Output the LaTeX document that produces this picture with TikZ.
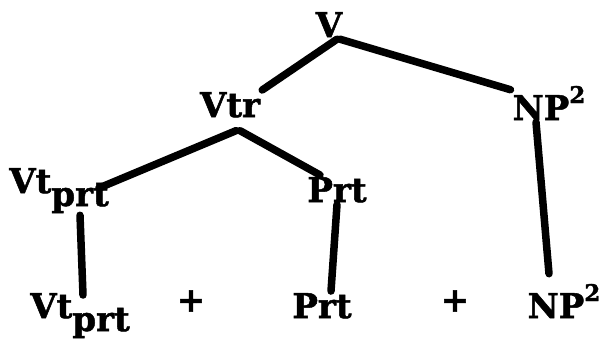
\documentclass[tikz,border=0pt]{standalone}
\usepackage{fontspec}
\setmainfont{DejaVu Serif}[BoldFeatures={FakeBold=1.5}]
\newcommand{\Sub}[1]{\raisebox{-13pt}{#1}}
\newcommand{\Sup}[1]{\raisebox{17pt}{\fontsize{23}{25}\selectfont #1}}

\begin{document}
\begin{tikzpicture}[x=1pt, y=-1pt,
    cat/.style={font=\fontsize{34}{36}\selectfont\bfseries, inner sep=2pt, anchor=base},
    plus/.style={font=\fontsize{34}{36}\selectfont\bfseries, inner sep=2pt},
    branch/.style={line width=7.5pt, line cap=round},
  ]
\useasboundingbox (0,0) rectangle (605,340);

% --- Upper tree ---------------------------------------------------------------
\node[cat] (v) at (329,37) {V};
\node[cat] (vtr) at (230,117) {Vtr};
\node[cat] (np) at (549,120) {NP\Sup{2}};
\node[cat] (vtp) at (59,193) {Vt\Sub{prt}};
\node[cat] (prt) at (337,202) {Prt};

% --- The string at the foot ---------------------------------------------------
\node[cat] (vtpleaf) at (80,318) {Vt\Sub{prt}};
\node[plus] (plusa) at (191,301) {+};
\node[cat] (prtleaf) at (322,318) {Prt};
\node[plus] (plusb) at (455,301) {+};
\node[cat] (npleaf) at (564,318) {NP\Sup{2}};

% --- Branches -----------------------------------------------------------------
\draw[branch] ([xshift=8pt]v.south) -- (vtr.north east);
\draw[branch] ([xshift=11pt]v.south) -- ([yshift=-6pt]np.north west);
\draw[branch] ([shift={(6pt,-11pt)}]vtr.south) -- ([shift={(-12pt,-22pt)}]vtp.north east);
\draw[branch] ([shift={(10pt,-11pt)}]vtr.south) -- ([xshift=-17pt]prt.north);
\draw[branch] ([xshift=21pt]vtp.south) -- ([shift={(3pt,-4pt)}]vtpleaf.north);
\draw[branch] (prt.south) -- ([xshift=9pt]prtleaf.north);
\draw[branch] ([xshift=-13pt]np.south) -- ([shift={(-15pt,8pt)}]npleaf.north);
\end{tikzpicture}
\end{document}
